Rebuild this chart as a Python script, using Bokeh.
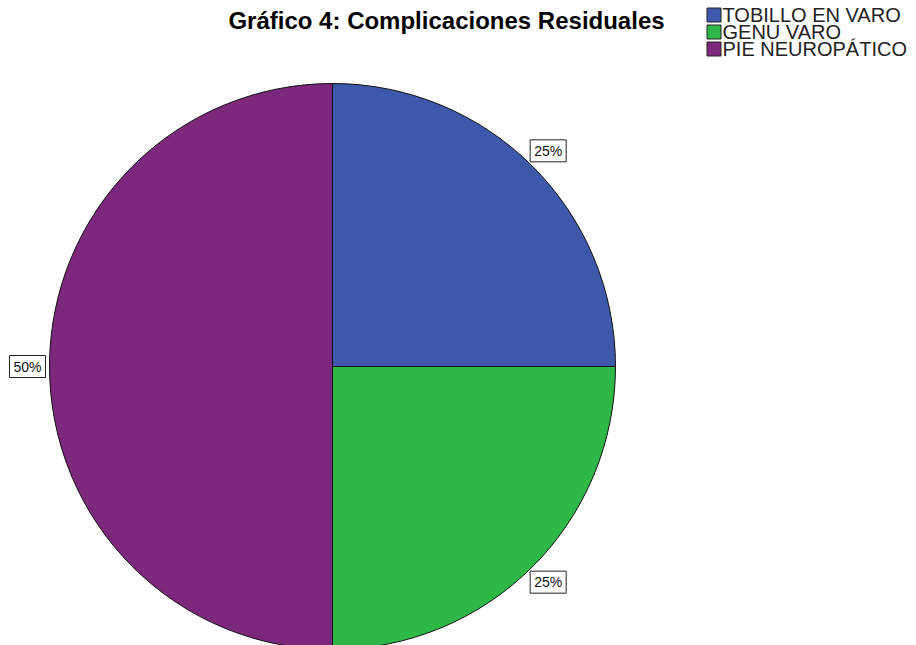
import math
from bokeh.plotting import figure
from bokeh.models import Range1d, ColumnDataSource
from bokeh.core.properties import value
from bokeh.embed import file_html
from bokeh.resources import INLINE

# ---- data ----
title_text = "Gráfico 4: Complicaciones Residuales"
categories = ["TOBILLO EN VARO", "GENU VARO", "PIE NEUROPÁTICO"]
values = [25, 25, 50]
pct_labels = ["25%", "25%", "50%"]
colors = ["#3E58AC", "#2EB848", "#7C287D"]

W, H = 916, 645
FONT = "Liberation Sans"

p = figure(width=W, height=H, output_backend="svg", toolbar_location=None,
           x_range=Range1d(0, W), y_range=Range1d(0, H), min_border=0)
p.axis.visible = False
p.grid.visible = False
p.outline_line_color = None
p.background_fill_color = "white"
p.border_fill_color = "white"

def Y(canvas_y):
    return H - canvas_y

# pie geometry (canvas pixels)
cx, cy, r = 332, Y(366), 283
lab_r = 305

total = float(sum(values))
starts, ends, lx, ly = [], [], [], []
cum = 0.0
for v in values:
    top = math.pi / 2 - 2 * math.pi * cum / total
    cum += v
    bot = math.pi / 2 - 2 * math.pi * cum / total
    starts.append(bot)
    ends.append(top)
    mid = (top + bot) / 2
    lx.append(cx + lab_r * math.cos(mid))
    ly.append(cy + lab_r * math.sin(mid))

src = ColumnDataSource(dict(start=starts, end=ends, color=colors, cat=categories,
                            lab=pct_labels, lx=lx, ly=ly))
p.wedge(x=cx, y=cy, radius=r, start_angle="start", end_angle="end",
        direction="anticlock", fill_color="color", line_color="#111111",
        line_width=1, source=src)

p.text(x="lx", y="ly", text="lab", source=src, text_align="center",
       text_baseline="middle", text_font=value(FONT), text_font_size="14px",
       text_color="#111111", background_fill_color="white",
       border_line_color="#222222", border_line_width=1, padding=[4, 4, 3, 3])

# legend (manual)
n = len(categories)
sq_x = 713.5
leg_y = [Y(14.5 + 17 * i) for i in range(n)]
lsrc = ColumnDataSource(dict(x=[sq_x] * n, y=leg_y, tx=[sq_x + 8.5] * n,
                             color=colors, cat=categories))
p.rect(x="x", y="y", width=14, height=14, fill_color="color",
       line_color="#222222", line_width=1, source=lsrc)
p.text(x="tx", y="y", text="cat", source=lsrc, text_font=value(FONT),
       text_font_size="20px", text_baseline="middle", text_align="left",
       text_color="#222222")

# title
p.text(x=[446], y=[Y(20)], text=[title_text], text_font=value(FONT),
       text_font_size="24px", text_font_style="bold", text_align="center",
       text_baseline="alphabetic", text_color="black")

open("out.html", "w").write(file_html(p, INLINE))
